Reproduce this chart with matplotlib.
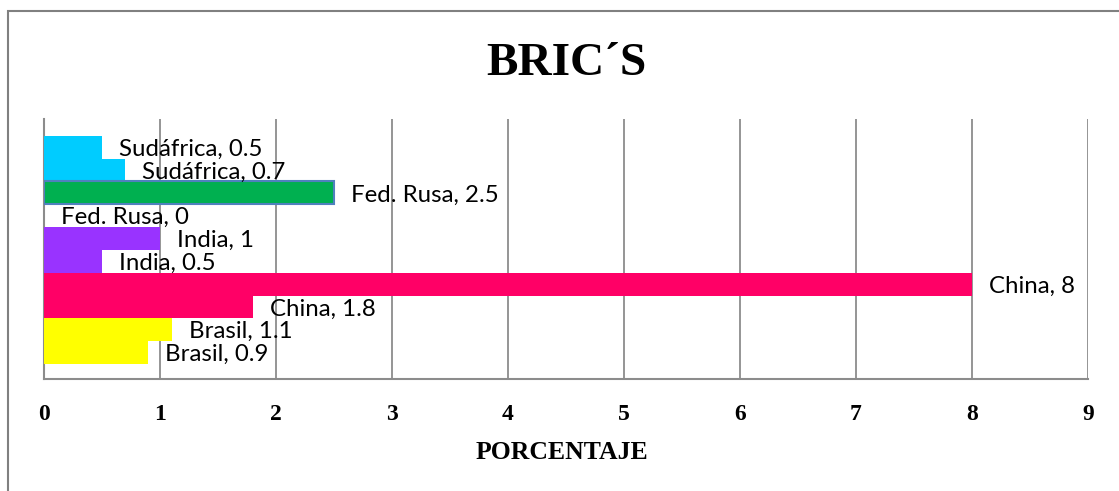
import matplotlib
matplotlib.use("Agg")
import matplotlib.pyplot as plt
import matplotlib.patches as mpatches
import numpy as np

# ── data ──────────────────────────────────────────────────────────────────────
countries = ["Brasil", "China", "India", "Fed. Rusa", "Sudáfrica"]
serie_baja = [0.9, 1.8, 0.5, 0, 0.7]    # lower bar in each pair
serie_alta = [1.1, 8, 1, 2.5, 0.5]      # upper bar in each pair
colours = ["#FFFF00", "#FF0066", "#9933FF", "#00B050", "#00CCFF"]
xticks = list(range(0, 10))

# ── figure ────────────────────────────────────────────────────────────────────
fig = plt.figure(figsize=(11.19, 4.91), dpi=100)
ax = fig.add_axes([44 / 1119, 1 - 379 / 491, (1088 - 44) / 1119, (379 - 119) / 491])

y = np.arange(len(countries))
h = 0.5
ax.barh(y - h / 2, serie_baja, height=h, color=colours, zorder=3)
bars_hi = ax.barh(y + h / 2, serie_alta, height=h, color=colours, zorder=3)
# Fed. Rusa upper bar has a blue outline in the original
bars_hi[countries.index("Fed. Rusa")].set_edgecolor("#4F81BD")
bars_hi[countries.index("Fed. Rusa")].set_linewidth(1.5)

label_font = dict(family=["Lato", "DejaVu Sans"], fontsize=17.3, color="black")
for yy, vals in ((y - h / 2, serie_baja), (y + h / 2, serie_alta)):
    for name, yc, v in zip(countries, yy, vals):
        ax.annotate(f"{name}, {v:g}", xy=(v, yc), xytext=(17, -2),
                    textcoords="offset pixels", ha="left", va="center",
                    zorder=5, **label_font)

ax.set_xlim(0, 9)
ax.set_ylim(-0.5 - 0.33, 4.5 + 0.37)
ax.set_xticks(xticks)
ax.set_xticklabels([str(t) for t in xticks], family="Liberation Serif",
                   fontweight="bold", fontsize=17)
ax.set_yticks([])
ax.tick_params(axis="x", length=0, pad=18)
ax.xaxis.grid(True, color="#8C8C8C", linewidth=1.3, zorder=0)
ax.set_axisbelow(True)
for side in ("top", "right"):
    ax.spines[side].set_visible(False)
for side in ("left", "bottom"):
    ax.spines[side].set_color("#8C8C8C")
    ax.spines[side].set_linewidth(1.5)

fig.text(562 / 1119, 1 - 459 / 491, "PORCENTAJE", family="Liberation Serif",
         fontweight="bold", fontsize=18.5, ha="center", va="baseline")
fig.text(566 / 1119, 1 - 75 / 491, "BRIC\u00b4S", family="Liberation Serif",
         fontweight="bold", fontsize=34, ha="center", va="baseline")

# outer chart frame (open at right and bottom, as cropped in the original)
frame = mpatches.Rectangle((8 / 1119, -0.2), 1.2, 1.2 - 11 / 491,
                           transform=fig.transFigure, fill=False,
                           edgecolor="#808080", linewidth=1.5)
fig.patches.append(frame)

fig.savefig("out.png", dpi=100)
